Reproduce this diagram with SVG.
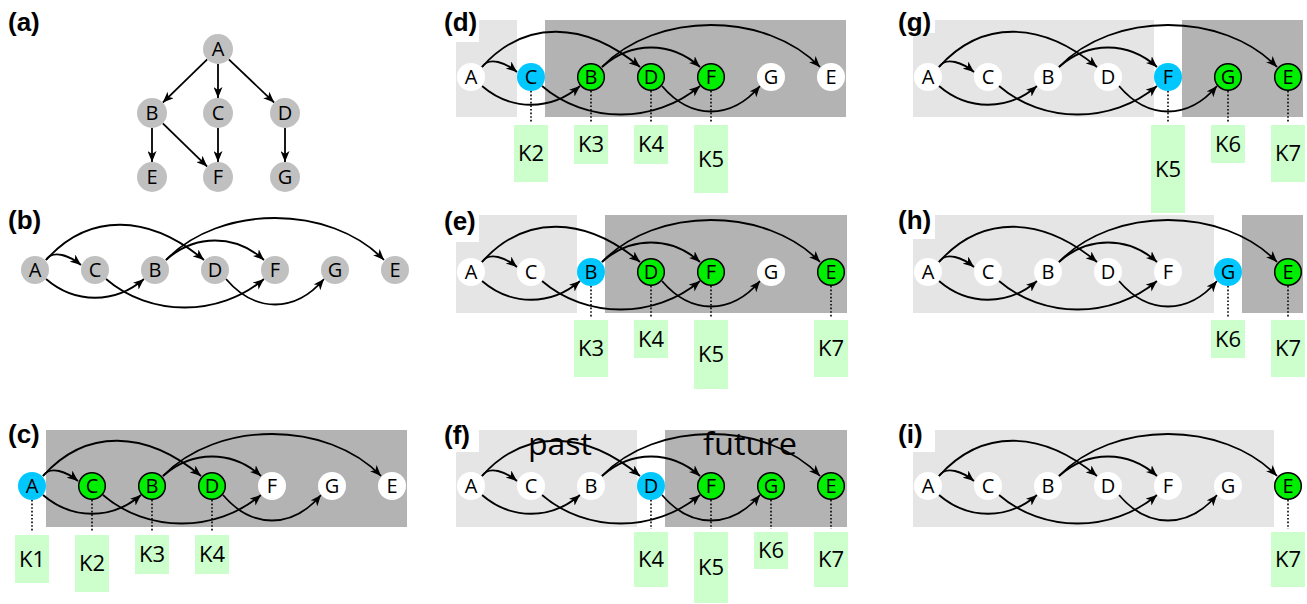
<svg xmlns="http://www.w3.org/2000/svg" width="1307" height="604" viewBox="0 0 1307 604">
  <style>
    .lbl { font-family: "Liberation Sans", Arial, sans-serif; font-weight: bold; font-size: 26px; fill: #000; }
    .nt { font-family: "Open Sans", "DejaVu Sans", sans-serif; font-size: 20px; fill: #000; text-anchor: middle; }
    .kt { font-family: "Open Sans", "DejaVu Sans", sans-serif; font-size: 22px; fill: #000; text-anchor: middle; }
    .big { font-family: "Open Sans", "DejaVu Sans", sans-serif; font-size: 31px; fill: #000; }
    .gray { fill: #c0c0c0; }
    .white { fill: #ffffff; }
    .cur { fill: #00c8ff; }
    .grn { fill: #00ee00; stroke: #000; stroke-width: 1.5; }
    .past { fill: #e5e5e5; }
    .fut { fill: #b3b3b3; }
    .lblbg { fill: #ffffff; }
    .kbox { fill: #ccffcc; }
    .edge { fill: none; stroke: #000; stroke-width: 1.8; marker-end: url(#arrow); }
    .dot { stroke: #000; stroke-width: 1.6; stroke-dasharray: 1.6 2; fill: none; }
  </style>
  <defs>
    <marker id="arrow" markerUnits="userSpaceOnUse" viewBox="0 0 11 9" refX="11" refY="4.5" markerWidth="11" markerHeight="9" orient="auto">
      <path d="M0,0 L11,4.5 L0,9 L3,4.5 Z" fill="#000"/>
    </marker>
  </defs>

  <!-- background shading: past (light) and future (dark) regions -->
  <g id="regions">
    <rect class="fut" x="46" y="430" width="361" height="97"/>
    <rect class="past" x="456" y="20" width="61" height="97"/>
    <rect class="fut" x="545" y="20" width="301" height="97"/>
    <rect class="past" x="456" y="215" width="121" height="98"/>
    <rect class="fut" x="605" y="215" width="242" height="98"/>
    <rect class="past" x="456" y="430" width="181" height="97"/>
    <rect class="fut" x="665" y="430" width="182" height="97"/>
    <rect class="past" x="913" y="20" width="241" height="97"/>
    <rect class="fut" x="1182" y="20" width="121" height="97"/>
    <rect class="past" x="913" y="215" width="301" height="98"/>
    <rect class="fut" x="1242" y="215" width="61" height="98"/>
    <rect class="past" x="913" y="430" width="361" height="97"/>
  </g>

  <!-- panel letters -->
  <g id="panel-labels">
    <rect class="lblbg" x="438" y="0" width="41" height="42"/>
    <rect class="lblbg" x="438" y="200" width="41" height="42"/>
    <rect class="lblbg" x="438" y="410" width="41" height="42"/>
    <rect class="lblbg" x="893" y="0" width="42" height="33"/>
    <rect class="lblbg" x="893" y="205" width="42" height="34"/>
    <rect class="lblbg" x="893" y="420" width="42" height="32"/>
    <text class="lbl" x="8" y="31">(a)</text>
    <text class="lbl" x="8" y="229">(b)</text>
    <text class="lbl" x="8" y="443">(c)</text>
    <text class="lbl" x="444" y="31">(d)</text>
    <text class="lbl" x="444" y="230">(e)</text>
    <text class="lbl" x="444" y="444">(f)</text>
    <text class="lbl" x="898" y="31">(g)</text>
    <text class="lbl" x="898" y="229">(h)</text>
    <text class="lbl" x="898" y="443">(i)</text>
  </g>

  <g id="region-names">
    <text class="big" x="528" y="455" textLength="64" lengthAdjust="spacingAndGlyphs">past</text>
    <text class="big" x="703" y="455" textLength="94" lengthAdjust="spacingAndGlyphs">future</text>
  </g>

  <!-- connectors -->
  <g id="connectors">
    <!-- tree (a) -->
    <path class="edge" d="M207.2,59.4 L162.8,102.6"/>
    <path class="edge" d="M218,64 L218,98"/>
    <path class="edge" d="M228.8,59.4 L274.2,102.6"/>
    <path class="edge" d="M152,128 L152,162"/>
    <path class="edge" d="M162.8,123.4 L207.2,166.6"/>
    <path class="edge" d="M218,128 L218,162"/>
    <path class="edge" d="M285,128 L285,162"/>
    <!-- linear orders A C B D F G E, origin at A -->
    <g transform="translate(35,270)">
      <path class="edge" d="M11,-10 C18,-21 35,-14 46,-5"/>
      <path class="edge" d="M11,-10 C54,-58 114,-56 169,-10"/>
      <path class="edge" d="M11,9 C40,34 80,34 109,9"/>
      <path class="edge" d="M71,9 C115,47 184,47 229,9"/>
      <path class="edge" d="M131,-10 C160,-36 200,-36 229,-10"/>
      <path class="edge" d="M131,-10 C185,-66 295,-66 349,-10"/>
      <path class="edge" d="M191,9 C220,43 260,43 289,9"/>
    </g>
    <g transform="translate(32,486)">
      <path class="edge" d="M11,-10 C18,-21 35,-14 46,-5"/>
      <path class="edge" d="M11,-10 C54,-58 114,-56 169,-10"/>
      <path class="edge" d="M11,9 C40,34 80,34 109,9"/>
      <path class="edge" d="M71,9 C115,47 184,47 229,9"/>
      <path class="edge" d="M131,-10 C160,-36 200,-36 229,-10"/>
      <path class="edge" d="M131,-10 C185,-66 295,-66 349,-10"/>
      <path class="edge" d="M191,9 C220,43 260,43 289,9"/>
    </g>
    <g transform="translate(471,77)">
      <path class="edge" d="M11,-10 C18,-21 35,-14 46,-5"/>
      <path class="edge" d="M11,-10 C54,-58 114,-56 169,-10"/>
      <path class="edge" d="M11,9 C40,34 80,34 109,9"/>
      <path class="edge" d="M71,9 C115,47 184,47 229,9"/>
      <path class="edge" d="M131,-10 C160,-36 200,-36 229,-10"/>
      <path class="edge" d="M131,-10 C185,-66 295,-66 349,-10"/>
      <path class="edge" d="M191,9 C220,43 260,43 289,9"/>
    </g>
    <g transform="translate(471,272)">
      <path class="edge" d="M11,-10 C18,-21 35,-14 46,-5"/>
      <path class="edge" d="M11,-10 C54,-58 114,-56 169,-10"/>
      <path class="edge" d="M11,9 C40,34 80,34 109,9"/>
      <path class="edge" d="M71,9 C115,47 184,47 229,9"/>
      <path class="edge" d="M131,-10 C160,-36 200,-36 229,-10"/>
      <path class="edge" d="M131,-10 C185,-66 295,-66 349,-10"/>
      <path class="edge" d="M191,9 C220,43 260,43 289,9"/>
    </g>
    <g transform="translate(471,486)">
      <path class="edge" d="M11,-10 C18,-21 35,-14 46,-5"/>
      <path class="edge" d="M11,-10 C54,-58 114,-56 169,-10"/>
      <path class="edge" d="M11,9 C40,34 80,34 109,9"/>
      <path class="edge" d="M71,9 C115,47 184,47 229,9"/>
      <path class="edge" d="M131,-10 C160,-36 200,-36 229,-10"/>
      <path class="edge" d="M131,-10 C185,-66 295,-66 349,-10"/>
      <path class="edge" d="M191,9 C220,43 260,43 289,9"/>
    </g>
    <g transform="translate(928,77)">
      <path class="edge" d="M11,-10 C18,-21 35,-14 46,-5"/>
      <path class="edge" d="M11,-10 C54,-58 114,-56 169,-10"/>
      <path class="edge" d="M11,9 C40,34 80,34 109,9"/>
      <path class="edge" d="M71,9 C115,47 184,47 229,9"/>
      <path class="edge" d="M131,-10 C160,-36 200,-36 229,-10"/>
      <path class="edge" d="M131,-10 C185,-66 295,-66 349,-10"/>
      <path class="edge" d="M191,9 C220,43 260,43 289,9"/>
    </g>
    <g transform="translate(928,272)">
      <path class="edge" d="M11,-10 C18,-21 35,-14 46,-5"/>
      <path class="edge" d="M11,-10 C54,-58 114,-56 169,-10"/>
      <path class="edge" d="M11,9 C40,34 80,34 109,9"/>
      <path class="edge" d="M71,9 C115,47 184,47 229,9"/>
      <path class="edge" d="M131,-10 C160,-36 200,-36 229,-10"/>
      <path class="edge" d="M131,-10 C185,-66 295,-66 349,-10"/>
      <path class="edge" d="M191,9 C220,43 260,43 289,9"/>
    </g>
    <g transform="translate(928,486)">
      <path class="edge" d="M11,-10 C18,-21 35,-14 46,-5"/>
      <path class="edge" d="M11,-10 C54,-58 114,-56 169,-10"/>
      <path class="edge" d="M11,9 C40,34 80,34 109,9"/>
      <path class="edge" d="M71,9 C115,47 184,47 229,9"/>
      <path class="edge" d="M131,-10 C160,-36 200,-36 229,-10"/>
      <path class="edge" d="M131,-10 C185,-66 295,-66 349,-10"/>
      <path class="edge" d="M191,9 C220,43 260,43 289,9"/>
    </g>
    <!-- dotted leaders from nodes to key boxes -->
    <path class="dot" d="M32,500 V532 M92,500 V532 M152,500 V532 M212,500 V532"/>
    <path class="dot" d="M531,91 V122 M591,91 V122 M651,91 V122 M711,91 V122"/>
    <path class="dot" d="M591,286 V317 M651,286 V317 M711,286 V317 M831,286 V317"/>
    <path class="dot" d="M651,500 V529 M711,500 V529 M771,500 V529 M831,500 V529"/>
    <path class="dot" d="M1168,91 V122 M1228,91 V122 M1288,91 V122"/>
    <path class="dot" d="M1228,286 V317 M1288,286 V317"/>
    <path class="dot" d="M1288,500 V529"/>
  </g>

  <!-- (a) tree -->
  <g id="a-A"><circle class="gray" cx="218" cy="49" r="15"/><text class="nt" x="218" y="56">A</text></g>
  <g id="a-B"><circle class="gray" cx="152" cy="113" r="15"/><text class="nt" x="152" y="120">B</text></g>
  <g id="a-C"><circle class="gray" cx="218" cy="113" r="15"/><text class="nt" x="218" y="120">C</text></g>
  <g id="a-D"><circle class="gray" cx="285" cy="113" r="15"/><text class="nt" x="285" y="120">D</text></g>
  <g id="a-E"><circle class="gray" cx="152" cy="177" r="15"/><text class="nt" x="152" y="184">E</text></g>
  <g id="a-F"><circle class="gray" cx="218" cy="177" r="15"/><text class="nt" x="218" y="184">F</text></g>
  <g id="a-G"><circle class="gray" cx="285" cy="177" r="15"/><text class="nt" x="285" y="184">G</text></g>

  <!-- (b) linear order -->
  <g id="b-A"><circle class="gray" cx="35" cy="270" r="14"/><text class="nt" x="35" y="277">A</text></g>
  <g id="b-C"><circle class="gray" cx="95" cy="270" r="14"/><text class="nt" x="95" y="277">C</text></g>
  <g id="b-B"><circle class="gray" cx="155" cy="270" r="14"/><text class="nt" x="155" y="277">B</text></g>
  <g id="b-D"><circle class="gray" cx="215" cy="270" r="14"/><text class="nt" x="215" y="277">D</text></g>
  <g id="b-F"><circle class="gray" cx="275" cy="270" r="14"/><text class="nt" x="275" y="277">F</text></g>
  <g id="b-G"><circle class="gray" cx="335" cy="270" r="14"/><text class="nt" x="335" y="277">G</text></g>
  <g id="b-E"><circle class="gray" cx="395" cy="270" r="14"/><text class="nt" x="395" y="277">E</text></g>

  <!-- (c) -->
  <g id="c-A"><circle class="cur" cx="32" cy="486" r="14"/><text class="nt" x="32" y="493">A</text></g>
  <g id="c-C"><circle class="grn" cx="92" cy="486" r="13.3"/><text class="nt" x="92" y="493">C</text></g>
  <g id="c-B"><circle class="grn" cx="152" cy="486" r="13.3"/><text class="nt" x="152" y="493">B</text></g>
  <g id="c-D"><circle class="grn" cx="212" cy="486" r="13.3"/><text class="nt" x="212" y="493">D</text></g>
  <g id="c-F"><circle class="white" cx="272" cy="486" r="14"/><text class="nt" x="272" y="493">F</text></g>
  <g id="c-G"><circle class="white" cx="332" cy="486" r="14"/><text class="nt" x="332" y="493">G</text></g>
  <g id="c-E"><circle class="white" cx="392" cy="486" r="14"/><text class="nt" x="392" y="493">E</text></g>
  <g id="c-K1"><rect class="kbox" x="15" y="535" width="34" height="48"/><text class="kt" x="32" y="567">K1</text></g>
  <g id="c-K2"><rect class="kbox" x="75" y="535" width="34" height="57"/><text class="kt" x="92" y="571">K2</text></g>
  <g id="c-K3"><rect class="kbox" x="135" y="535" width="34" height="39"/><text class="kt" x="152" y="562">K3</text></g>
  <g id="c-K4"><rect class="kbox" x="195" y="535" width="34" height="39"/><text class="kt" x="212" y="562">K4</text></g>

  <!-- (d) -->
  <g id="d-A"><circle class="white" cx="471" cy="77" r="14"/><text class="nt" x="471" y="84">A</text></g>
  <g id="d-C"><circle class="cur" cx="531" cy="77" r="14"/><text class="nt" x="531" y="84">C</text></g>
  <g id="d-B"><circle class="grn" cx="591" cy="77" r="13.3"/><text class="nt" x="591" y="84">B</text></g>
  <g id="d-D"><circle class="grn" cx="651" cy="77" r="13.3"/><text class="nt" x="651" y="84">D</text></g>
  <g id="d-F"><circle class="grn" cx="711" cy="77" r="13.3"/><text class="nt" x="711" y="84">F</text></g>
  <g id="d-G"><circle class="white" cx="771" cy="77" r="14"/><text class="nt" x="771" y="84">G</text></g>
  <g id="d-E"><circle class="white" cx="831" cy="77" r="14"/><text class="nt" x="831" y="84">E</text></g>
  <g id="d-K2"><rect class="kbox" x="514" y="125" width="34" height="57"/><text class="kt" x="531" y="161">K2</text></g>
  <g id="d-K3"><rect class="kbox" x="574" y="125" width="34" height="39"/><text class="kt" x="591" y="152">K3</text></g>
  <g id="d-K4"><rect class="kbox" x="634" y="125" width="34" height="39"/><text class="kt" x="651" y="152">K4</text></g>
  <g id="d-K5"><rect class="kbox" x="694" y="125" width="34" height="68"/><text class="kt" x="711" y="167">K5</text></g>

  <!-- (e) -->
  <g id="e-A"><circle class="white" cx="471" cy="272" r="14"/><text class="nt" x="471" y="279">A</text></g>
  <g id="e-C"><circle class="white" cx="531" cy="272" r="14"/><text class="nt" x="531" y="279">C</text></g>
  <g id="e-B"><circle class="cur" cx="591" cy="272" r="14"/><text class="nt" x="591" y="279">B</text></g>
  <g id="e-D"><circle class="grn" cx="651" cy="272" r="13.3"/><text class="nt" x="651" y="279">D</text></g>
  <g id="e-F"><circle class="grn" cx="711" cy="272" r="13.3"/><text class="nt" x="711" y="279">F</text></g>
  <g id="e-G"><circle class="white" cx="771" cy="272" r="14"/><text class="nt" x="771" y="279">G</text></g>
  <g id="e-E"><circle class="grn" cx="831" cy="272" r="13.3"/><text class="nt" x="831" y="279">E</text></g>
  <g id="e-K3"><rect class="kbox" x="574" y="320" width="34" height="57"/><text class="kt" x="591" y="356">K3</text></g>
  <g id="e-K4"><rect class="kbox" x="634" y="320" width="34" height="38"/><text class="kt" x="651" y="347">K4</text></g>
  <g id="e-K5"><rect class="kbox" x="694" y="320" width="34" height="69"/><text class="kt" x="711" y="362">K5</text></g>
  <g id="e-K7"><rect class="kbox" x="814" y="320" width="34" height="57"/><text class="kt" x="831" y="356">K7</text></g>

  <!-- (f) -->
  <g id="f-A"><circle class="white" cx="471" cy="486" r="14"/><text class="nt" x="471" y="493">A</text></g>
  <g id="f-C"><circle class="white" cx="531" cy="486" r="14"/><text class="nt" x="531" y="493">C</text></g>
  <g id="f-B"><circle class="white" cx="591" cy="486" r="14"/><text class="nt" x="591" y="493">B</text></g>
  <g id="f-D"><circle class="cur" cx="651" cy="486" r="14"/><text class="nt" x="651" y="493">D</text></g>
  <g id="f-F"><circle class="grn" cx="711" cy="486" r="13.3"/><text class="nt" x="711" y="493">F</text></g>
  <g id="f-G"><circle class="grn" cx="771" cy="486" r="13.3"/><text class="nt" x="771" y="493">G</text></g>
  <g id="f-E"><circle class="grn" cx="831" cy="486" r="13.3"/><text class="nt" x="831" y="493">E</text></g>
  <g id="f-K4"><rect class="kbox" x="634" y="532" width="34" height="55"/><text class="kt" x="651" y="567">K4</text></g>
  <g id="f-K5"><rect class="kbox" x="694" y="532" width="34" height="71"/><text class="kt" x="711" y="575">K5</text></g>
  <g id="f-K6"><rect class="kbox" x="754" y="532" width="34" height="37"/><text class="kt" x="771" y="558">K6</text></g>
  <g id="f-K7"><rect class="kbox" x="814" y="532" width="34" height="55"/><text class="kt" x="831" y="567">K7</text></g>

  <!-- (g) -->
  <g id="g-A"><circle class="white" cx="928" cy="77" r="14"/><text class="nt" x="928" y="84">A</text></g>
  <g id="g-C"><circle class="white" cx="988" cy="77" r="14"/><text class="nt" x="988" y="84">C</text></g>
  <g id="g-B"><circle class="white" cx="1048" cy="77" r="14"/><text class="nt" x="1048" y="84">B</text></g>
  <g id="g-D"><circle class="white" cx="1108" cy="77" r="14"/><text class="nt" x="1108" y="84">D</text></g>
  <g id="g-F"><circle class="cur" cx="1168" cy="77" r="14"/><text class="nt" x="1168" y="84">F</text></g>
  <g id="g-G"><circle class="grn" cx="1228" cy="77" r="13.3"/><text class="nt" x="1228" y="84">G</text></g>
  <g id="g-E"><circle class="grn" cx="1288" cy="77" r="13.3"/><text class="nt" x="1288" y="84">E</text></g>
  <g id="g-K5"><rect class="kbox" x="1151" y="125" width="34" height="88"/><text class="kt" x="1168" y="177">K5</text></g>
  <g id="g-K6"><rect class="kbox" x="1211" y="125" width="34" height="38"/><text class="kt" x="1228" y="152">K6</text></g>
  <g id="g-K7"><rect class="kbox" x="1271" y="125" width="34" height="57"/><text class="kt" x="1288" y="161">K7</text></g>

  <!-- (h) -->
  <g id="h-A"><circle class="white" cx="928" cy="272" r="14"/><text class="nt" x="928" y="279">A</text></g>
  <g id="h-C"><circle class="white" cx="988" cy="272" r="14"/><text class="nt" x="988" y="279">C</text></g>
  <g id="h-B"><circle class="white" cx="1048" cy="272" r="14"/><text class="nt" x="1048" y="279">B</text></g>
  <g id="h-D"><circle class="white" cx="1108" cy="272" r="14"/><text class="nt" x="1108" y="279">D</text></g>
  <g id="h-F"><circle class="white" cx="1168" cy="272" r="14"/><text class="nt" x="1168" y="279">F</text></g>
  <g id="h-G"><circle class="cur" cx="1228" cy="272" r="14"/><text class="nt" x="1228" y="279">G</text></g>
  <g id="h-E"><circle class="grn" cx="1288" cy="272" r="13.3"/><text class="nt" x="1288" y="279">E</text></g>
  <g id="h-K6"><rect class="kbox" x="1211" y="320" width="34" height="38"/><text class="kt" x="1228" y="347">K6</text></g>
  <g id="h-K7"><rect class="kbox" x="1271" y="320" width="34" height="57"/><text class="kt" x="1288" y="356">K7</text></g>

  <!-- (i) -->
  <g id="i-A"><circle class="white" cx="928" cy="486" r="14"/><text class="nt" x="928" y="493">A</text></g>
  <g id="i-C"><circle class="white" cx="988" cy="486" r="14"/><text class="nt" x="988" y="493">C</text></g>
  <g id="i-B"><circle class="white" cx="1048" cy="486" r="14"/><text class="nt" x="1048" y="493">B</text></g>
  <g id="i-D"><circle class="white" cx="1108" cy="486" r="14"/><text class="nt" x="1108" y="493">D</text></g>
  <g id="i-F"><circle class="white" cx="1168" cy="486" r="14"/><text class="nt" x="1168" y="493">F</text></g>
  <g id="i-G"><circle class="white" cx="1228" cy="486" r="14"/><text class="nt" x="1228" y="493">G</text></g>
  <g id="i-E"><circle class="grn" cx="1288" cy="486" r="13.3"/><text class="nt" x="1288" y="493">E</text></g>
  <g id="i-K7"><rect class="kbox" x="1271" y="532" width="34" height="55"/><text class="kt" x="1288" y="567">K7</text></g>
</svg>
